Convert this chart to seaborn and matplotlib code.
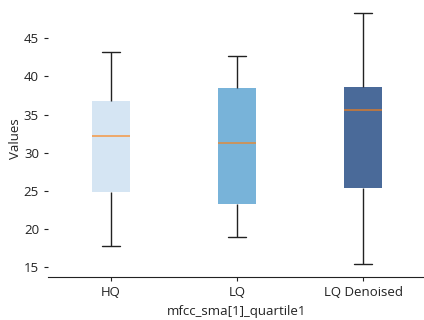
import matplotlib
matplotlib.use("Agg")
import matplotlib.pyplot as plt
import seaborn as sns
import pandas as pd

# Five-number summaries per recording condition
categories = ["HQ", "LQ", "LQ Denoised"]
whisker_low = [17.80, 18.93, 15.38]
q1 = [24.84, 23.32, 25.42]
median = [32.16, 31.24, 35.62]
q3 = [36.80, 38.51, 38.64]
whisker_high = [43.24, 42.71, 48.36]
y_ticks = [15, 20, 25, 30, 35, 40, 45]
box_colors = ["#d5e5f3", "#78b3d9", "#4a6a99"]

rows = []
for i, cat in enumerate(categories):
    for v in (whisker_low[i], q1[i], median[i], q3[i], whisker_high[i]):
        rows.append({"Condition": cat, "Values": v})
df = pd.DataFrame(rows)

sns.set_style("ticks")
plt.rcParams["font.family"] = ["Open Sans", "DejaVu Sans"]

fig = plt.figure(figsize=(4.24, 3.2), dpi=100)
ax = fig.add_axes([48 / 424, 43 / 320, 378 / 424, 277 / 320])

sns.boxplot(
    data=df, x="Condition", y="Values", hue="Condition",
    palette=box_colors, order=categories, hue_order=categories,
    legend=False, width=0.3, saturation=1, ax=ax,
    linewidth=1.0,
    boxprops=dict(edgecolor="none", linewidth=0),
    whiskerprops=dict(color="#222222", linewidth=1.0),
    capprops=dict(color="#222222", linewidth=1.0),
    medianprops=dict(color="#ff7f0e", linewidth=1.2, alpha=0.7),
    showfliers=False,
)

ax.set_xlim(-0.5, 2.5)
ax.set_yticks(y_ticks)
ax.set_xlabel("mfcc_sma[1]_quartile1", fontsize=9.5, color="#222222")
ax.set_ylabel("Values", fontsize=9.5, color="#222222", labelpad=1)
ax.tick_params(axis="both", labelsize=9.5, colors="#222222", length=3, width=0.8)
sns.despine(ax=ax, left=True)
ax.spines["bottom"].set_color("#222222")

fig.savefig("out.png", dpi=100)
